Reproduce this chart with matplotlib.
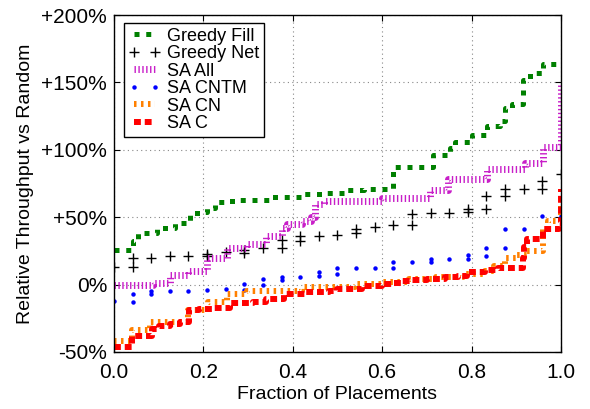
import matplotlib
matplotlib.use('Agg')
import matplotlib.pyplot as plt
from matplotlib.ticker import FuncFormatter


# Step curves: fraction of placements where each step starts, and the value (%)
greedy_fill_x = [0.0, 0.042, 0.054, 0.096, 0.136, 0.17, 0.192, 0.208, 0.226, 0.253, 0.28,
                 0.349, 0.42, 0.472, 0.52, 0.56, 0.624, 0.714, 0.752, 0.763, 0.80, 0.834,
                 0.863, 0.875, 0.89, 0.915, 0.93, 0.96, 1.0]
greedy_fill_y = [26, 32, 38, 42, 46, 53, 54, 57, 61, 62, 63,
                 65, 67, 68, 70, 71, 87, 96, 101, 106, 111, 118,
                 121, 131, 134, 152, 157, 164, 164]

sa_all_x = [0.0, 0.087, 0.125, 0.166, 0.208, 0.253, 0.297, 0.341, 0.375, 0.387, 0.42,
            0.44, 0.45, 0.47, 0.6, 0.707, 0.747, 0.835, 0.92, 0.96, 1.0]
sa_all_y = [0, 1.5, 7, 10, 20, 27, 30, 36, 42, 45, 47.5,
            50, 60, 62, 64, 70, 78, 86, 90, 102, 149]

sa_cn_x = [0.0, 0.04, 0.08, 0.165, 0.21, 0.253, 0.298, 0.42, 0.54, 0.6, 0.66,
           0.72, 0.78, 0.83, 0.85, 0.875, 0.9, 0.925, 0.96, 0.97, 1.0]
sa_cn_y = [-41.5, -34, -28, -19, -13, -7, -5, -1.5, 0.7, 2, 4,
           6, 8, 10, 14, 20, 22, 25, 41, 47.5, 58]

sa_c_x = [0.0, 0.04, 0.085, 0.1, 0.125, 0.148, 0.168, 0.19, 0.22, 0.26, 0.31, 0.34,
          0.38, 0.43, 0.48, 0.5, 0.54, 0.555, 0.6, 0.625, 0.645, 0.665, 0.7, 0.74,
          0.77, 0.79, 0.83, 0.86, 0.915, 0.918, 0.925, 0.96, 0.995, 1.0]
sa_c_y = [-46, -38, -33, -30.5, -29, -27.5, -19, -18, -17, -14, -13, -11,
          -7, -5.5, -4.5, -3.5, -3, -0.7, 0.7, 1.5, 2.5, 3.7, 4.5, 5.5,
          6.7, 9, 10.5, 12, 20, 28, 34, 41.5, 46, 71]

# Point series sampled every 1/24 of the placements (index k -> k/24)
SAMPLES = 24
greedy_net_k = [0, 1, 1, 2, 3, 4, 5, 5, 6, 7, 7, 8, 9, 9, 10, 10, 11, 12, 13, 13,
                14, 15, 16, 16, 17, 18, 19, 19, 20, 20, 21, 21, 22, 23, 23, 24]
greedy_net_y = [13, 20, 13, 20, 21, 21.5, 23, 21, 24, 26, 23.5, 27, 33, 27.5, 36, 32, 36, 37, 41.5, 38,
                43, 44.5, 52, 44.5, 53, 53, 56, 53.5, 66, 56, 71, 66, 71, 77, 71, 82]

sa_cntm_k = [0, 1, 1, 2, 2, 3, 4, 5, 6, 7, 7, 8, 8, 9, 9, 10, 11, 11, 12, 12,
             13, 14, 15, 15, 16, 17, 17, 18, 19, 19, 20, 20, 21, 21, 22, 23, 24]
sa_cntm_y = [-12, -6.7, -12.6, -4.5, -6.7, -4.5, -4.5, -3.7, -3, 0.7, -3.7, 4.5, 0, 6, 3.7, 6, 9, 6.7, 12, 8,
             12, 12.6, 17, 12.6, 17, 19, 17, 19, 22, 19, 27, 21.5, 41.5, 27, 41.5, 51, 51]

y_ticks = [-50, 0, 50, 100, 150, 200]
x_ticks = [0.0, 0.2, 0.4, 0.6, 0.8, 1.0]


def pct_label(value, pos):
    if value > 0:
        return '+%d%%' % value
    return '%d%%' % value


plt.rcParams['font.family'] = ['Liberation Sans', 'DejaVu Sans']

fig = plt.figure(figsize=(5.9, 4.09), dpi=100)
ax = fig.add_axes([0.1932, 0.1394, 0.7576, 0.8239])

ax.plot(greedy_fill_x, greedy_fill_y, drawstyle='steps-post', color='#008000',
        lw=3.6, linestyle=(0, (1.0, 1.35)), dash_capstyle='butt', label='Greedy Fill')
ax.plot([k / SAMPLES for k in greedy_net_k], greedy_net_y, linestyle='none',
        marker='+', ms=7, mew=1.0, color='black', label='Greedy Net')
ax.plot(sa_all_x, sa_all_y, drawstyle='steps-post', color='#c81ec8',
        lw=5.0, linestyle=(0, (0.2, 0.36)), dash_capstyle='butt', label='SA All')
ax.plot([k / SAMPLES for k in sa_cntm_k], sa_cntm_y, linestyle='none',
        marker='o', ms=3.2, mew=0, color='#0000ff', label='SA CNTM')
ax.plot(sa_cn_x, sa_cn_y, drawstyle='steps-post', color='#ff8000',
        lw=4.3, linestyle=(0, (0.42, 0.75)), dash_capstyle='butt', label='SA CN')
ax.plot(sa_c_x, sa_c_y, drawstyle='steps-post', color='#ff0000',
        lw=4.3, linestyle=(0, (1.15, 0.65)), dash_capstyle='butt', label='SA C')

ax.set_xlim(0, 1)
ax.set_ylim(-50, 200)
ax.set_xticks(x_ticks)
ax.set_yticks(y_ticks)
ax.xaxis.set_major_formatter(FuncFormatter(lambda v, p: '%.1f' % v))
ax.yaxis.set_major_formatter(FuncFormatter(pct_label))
ax.tick_params(direction='in', length=4, width=0.8, top=True, right=True, labelsize=15)
ax.tick_params(axis='x', pad=8)
ax.tick_params(axis='y', pad=5)

ax.grid(True, color='#888888', linestyle=(0, (1, 3)), linewidth=0.8)
for spine in ax.spines.values():
    spine.set_linewidth(1.0)

ax.set_xlabel('Fraction of Placements', fontsize=14, labelpad=3)
ax.set_ylabel('Relative Throughput vs Random', fontsize=14, labelpad=5)

leg = ax.legend(loc='upper left', bbox_to_anchor=(0.022, 0.976), borderaxespad=0,
                fontsize=13, numpoints=2, handlelength=1.75, handletextpad=0.4,
                labelspacing=0.03, borderpad=0.25, fancybox=False, framealpha=1)
leg.get_frame().set_edgecolor('black')
leg.get_frame().set_linewidth(1.0)

fig.savefig('out.png', dpi=100)
